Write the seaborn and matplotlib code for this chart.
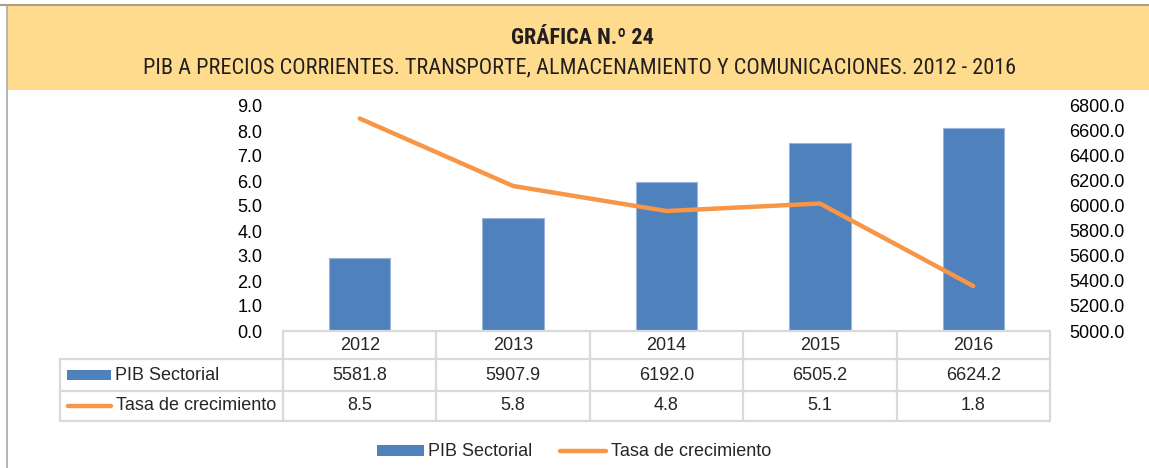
import numpy as np
import pandas as pd
import seaborn as sns
import matplotlib.pyplot as plt
from matplotlib.lines import Line2D
from matplotlib.patches import Patch, Rectangle
from matplotlib.transforms import blended_transform_factory

years = ['2012', '2013', '2014', '2015', '2016']
pib_sectorial = [5581.8, 5907.9, 6192.0, 6505.2, 6624.2]
tasa_crecimiento = [8.5, 5.8, 4.8, 5.1, 1.8]

left_ticks = np.arange(0, 9.1, 1.0)
right_ticks = np.arange(5000, 6801, 200)

title = 'GRÁFICA N.º 24'
subtitle = 'PIB A PRECIOS CORRIENTES. TRANSPORTE, ALMACENAMIENTO Y COMUNICACIONES. 2012 - 2016'

BLUE = '#4F81BD'
ORANGE = '#F79646'
GRID = '#D9D9D9'
FS = 13

sns.set_style('white')
plt.rcParams['font.family'] = ['Liberation Sans', 'DejaVu Sans']
HEAD_FONT = ['Roboto Condensed', 'Liberation Sans', 'DejaVu Sans']

W, H = 1149, 468
fig = plt.figure(figsize=(W / 100, H / 100), dpi=100)


def fx(px):
    return px / W


def fy(py):
    return 1 - py / H


def fit_width(txt, target_px):
    # shrink/grow a text until it spans target_px on the canvas
    r = fig.canvas.get_renderer()
    for _ in range(3):
        w = txt.get_window_extent(renderer=r).width
        txt.set_fontsize(txt.get_fontsize() * target_px / w)


# header band and outer frame
fig.add_artist(Rectangle((fx(8), fy(90)), 1, fy(6) - fy(90), transform=fig.transFigure,
                         facecolor='#FEDB8D', edgecolor='none'))
fig.add_artist(Line2D([fx(0), 1], [fy(5), fy(5)], transform=fig.transFigure, color='#A89F8A', lw=1.5))
fig.add_artist(Line2D([fx(7), fx(7)], [fy(5), 0], transform=fig.transFigure, color='#A6A6A6', lw=1.2))
t1 = fig.text(fx(582), fy(38.5), title, ha='center', va='center', fontsize=15, fontweight='bold',
              family=HEAD_FONT, color='#231F20')
t2 = fig.text(fx(580), fy(67.5), subtitle, ha='center', va='center', fontsize=15,
              family=HEAD_FONT, color='#231F20')
fit_width(t1, 143)
fit_width(t2, 866)

ax = fig.add_axes([fx(283), fy(331), fx(1050) - fx(283), fy(106) - fy(331)])
ax2 = ax.twinx()

df = pd.DataFrame({'year': years, 'pib': pib_sectorial, 'tasa': tasa_crecimiento})

sns.barplot(data=df, x='year', y='pib', ax=ax2, color=BLUE, width=0.4, saturation=1,
            edgecolor='#9CB6DB', linewidth=0.8)
sns.lineplot(x=np.arange(len(years)), y=df['tasa'], ax=ax, color=ORANGE, lw=3.2,
             solid_capstyle='round')

ax.set_zorder(ax2.get_zorder() + 1)
ax.patch.set_visible(False)

ax.set_xlim(-0.5, len(years) - 0.5)
ax.set_ylim(0, 9)
ax2.set_ylim(5000, 6800)
ax.set_yticks(left_ticks)
ax.set_yticklabels([f'{v:.1f}' for v in left_ticks])
ax2.set_yticks(right_ticks)
ax2.set_yticklabels([f'{v:.1f}' for v in right_ticks])
for a in (ax, ax2):
    a.set_xticks([])
    a.set_xlabel('')
    a.set_ylabel('')
    for s in a.spines.values():
        s.set_visible(False)
    a.tick_params(axis='y', length=0, labelsize=FS, colors='black')
ax.tick_params(axis='y', pad=15)
ax2.tick_params(axis='y', pad=14)

# data table under the axis
tr = blended_transform_factory(ax.transData, fig.transFigure)
row_y = [331, 359, 391, 421]
lab_x = 60
edges = np.arange(len(years) + 1) - 0.5
lkw = dict(color=GRID, lw=1.6, clip_on=False)
ax.add_line(Line2D([edges[0], edges[-1]], [fy(row_y[0])] * 2, transform=tr, **lkw))
for y in row_y[1:]:
    fig.add_artist(Line2D([fx(lab_x), fx(1050)], [fy(y)] * 2, transform=fig.transFigure, **lkw))
for e in edges:
    ax.add_line(Line2D([e, e], [fy(row_y[0]), fy(row_y[-1])], transform=tr, **lkw))
fig.add_artist(Line2D([fx(lab_x), fx(lab_x)], [fy(row_y[1]), fy(row_y[-1])],
                      transform=fig.transFigure, **lkw))

rows = [[f'{v:.1f}' for v in pib_sectorial], [f'{v:.1f}' for v in tasa_crecimiento]]
for i, yr in enumerate(years):
    ax.text(i, fy((row_y[0] + row_y[1]) / 2), yr, transform=tr, ha='center', va='center', fontsize=FS)
    for r in range(2):
        ax.text(i, fy((row_y[r + 1] + row_y[r + 2]) / 2), rows[r][i], transform=tr,
                ha='center', va='center', fontsize=FS)

# row labels with legend keys
yc1 = fy((row_y[1] + row_y[2]) / 2)
yc2 = fy((row_y[2] + row_y[3]) / 2)
fig.add_artist(Rectangle((fx(67), yc1 - 5 / H), fx(111) - fx(67), 10 / H, transform=fig.transFigure,
                         facecolor=BLUE, edgecolor='none'))
fig.text(fx(115), yc1, 'PIB Sectorial', ha='left', va='center', fontsize=FS)
fig.add_artist(Line2D([fx(68), fx(111)], [yc2, yc2], transform=fig.transFigure, color=ORANGE, lw=3.2,
                      solid_capstyle='round'))
fig.text(fx(116), yc2, 'Tasa de crecimiento', ha='left', va='center', fontsize=FS)

handles = [Patch(facecolor=BLUE, edgecolor='none', label='PIB Sectorial'),
           Line2D([], [], color=ORANGE, lw=3.2, solid_capstyle='round', label='Tasa de crecimiento')]
fig.legend(handles=handles, loc='center', bbox_to_anchor=(fx(574), fy(452)), ncol=2, frameon=False,
           fontsize=FS, handlelength=2.6, handleheight=0.55, handletextpad=0.25, columnspacing=1.5)

fig.savefig('out.png', dpi=100, facecolor='white')
